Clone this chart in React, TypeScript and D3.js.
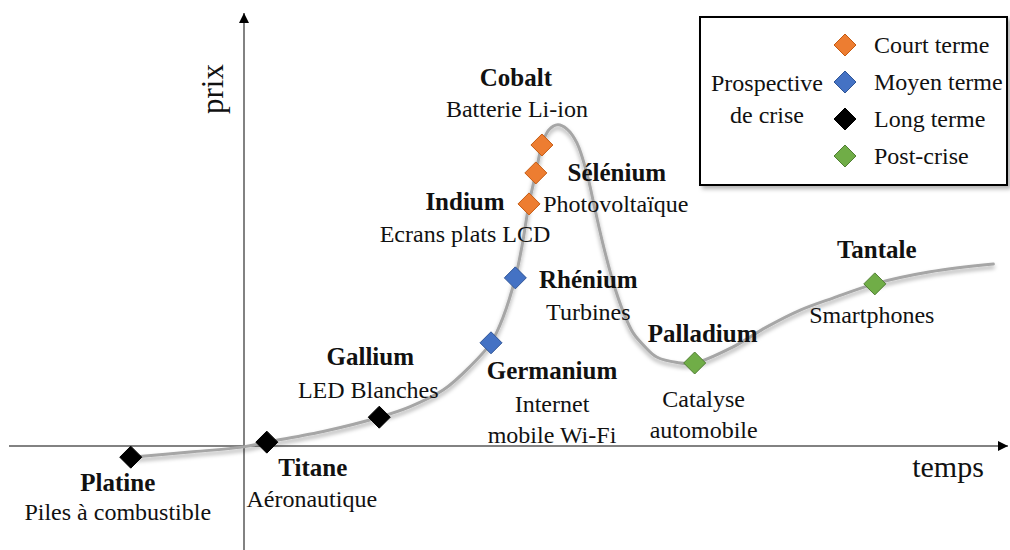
import React from "react";
import * as d3 from "d3";

// ---- data (time, price) ----
const curveTime = [-14.9, -7.1, -0.1, 3.0, 10.7, 17.8, 21.8, 26.2, 29.7, 32.5, 34.1, 35.7, 36.6, 37.5, 38.4, 39.2, 40.1, 41.3, 42.5, 43.8, 45.1, 46.2, 47.2, 48.6, 49.9, 51.2, 52.8, 54.3, 57.0, 59.3, 64.3, 68.8, 73.2, 77.5, 83.0, 90.3, 98.6];
const curvePrice = [-2.6, -1.4, -0.2, 0.9, 3.5, 6.7, 9.1, 13.0, 18.4, 24.0, 30.0, 39.1, 46.7, 56.3, 63.5, 70.0, 73.5, 74.7, 73.7, 70.5, 63.5, 54.9, 47.2, 37.9, 31.2, 26.3, 23.0, 20.7, 19.4, 19.3, 23.0, 27.7, 31.6, 34.4, 37.7, 40.5, 42.3];

const categories = ["Court terme", "Moyen terme", "Long terme", "Post-crise"];
const categoryColors = ["#ED7D31", "#4472C4", "#000000", "#70AD47"];
const categoryStrokes = ["#C55A11", "#2F5597", "#000000", "#507E32"];

const elements = ["Platine", "Titane", "Gallium", "Germanium", "Rhénium", "Indium", "Sélénium", "Cobalt", "Palladium", "Tantale"];
const applications = [
  ["Piles à combustible"],
  ["Aéronautique"],
  ["LED Blanches"],
  ["Internet", "mobile Wi-Fi"],
  ["Turbines"],
  ["Ecrans plats LCD"],
  ["Photovoltaïque"],
  ["Batterie Li-ion"],
  ["Catalyse", "automobile"],
  ["Smartphones"],
];
const elementTime = [-14.9, 3.0, 17.8, 32.5, 35.7, 37.5, 38.4, 39.2, 59.3, 83.0];
const elementPrice = [-2.6, 0.9, 6.7, 24.0, 39.1, 56.3, 63.5, 70.0, 19.3, 37.7];
const elementCategory = [2, 2, 2, 1, 1, 0, 0, 0, 3, 3];

const legendTitle = ["Prospective", "de crise"];
const axisLabels = { x: "temps", y: "prix" };

// ---- layout (label offsets relative to marker) ----
const labelLayout: Record<string, { dx: number; ndy: number; adx: number; ady: number }> = {
  Platine: { dx: -13, ndy: 34, adx: -13, ady: 63 },
  Titane: { dx: 46, ndy: 34, adx: 45, ady: 65 },
  Gallium: { dx: -9, ndy: -52, adx: -11, ady: -19 },
  Germanium: { dx: 61, ndy: 36, adx: 61, ady: 69 },
  "Rhénium": { dx: 73, ndy: 10, adx: 73, ady: 42 },
  Indium: { dx: -64, ndy: 6, adx: -64, ady: 38 },
  "Sélénium": { dx: 81, ndy: 8, adx: 80, ady: 39 },
  Cobalt: { dx: -26, ndy: -59, adx: -25, ady: -28 },
  Palladium: { dx: 8, ndy: -21, adx: 9, ady: 44 },
  Tantale: { dx: 2, ndy: -26, adx: -3, ady: 39 },
};

const W = 1010;
const H = 550;
const FONT = "'Liberation Serif', 'Times New Roman', serif";

export default function App() {
  const x = d3.scaleLinear().domain([0, 100]).range([244, 1004]);
  const y = d3.scaleLinear().domain([0, 100]).range([446, 16]);

  const pts: [number, number][] = curveTime.map((t, i) => [x(t), y(curvePrice[i])]);
  const line = d3.line<[number, number]>().curve(d3.curveCatmullRom.alpha(0.5));
  const curvePath = line(pts) || "";

  const r = 11;
  const diamond = `M0,${-r}L${r},0L0,${r}L${-r},0Z`;

  const x0 = x(0);
  const y0 = y(0);

  const legendX = 700, legendY = 17, legendW = 307, legendH = 168;
  const legendRowY = [45, 82, 119, 156];

  return (
    <div style={{ position: "absolute", left: 0, top: 0 }}>
      <svg width={W} height={H} style={{ display: "block", background: "#fff" }} fontFamily={FONT}>
        <defs>
          <filter id="lineShadow" x="-5%" y="-20%" width="110%" height="140%">
            <feDropShadow dx="0" dy="3" stdDeviation="2" floodColor="#000" floodOpacity="0.35" />
          </filter>
          <filter id="boxShadow" x="-5%" y="-5%" width="112%" height="115%">
            <feDropShadow dx="3" dy="3" stdDeviation="2" floodColor="#000" floodOpacity="0.3" />
          </filter>
          <marker id="arrow" viewBox="0 0 10 10" refX="10" refY="5" markerWidth="10" markerHeight="10" markerUnits="userSpaceOnUse" orient="auto">
            <path d="M0,0L10,5L0,10Z" fill="#000" />
          </marker>
        </defs>

        {/* axes */}
        <line x1={9} y1={y0} x2={1008} y2={y0} stroke="#595959" strokeWidth={1.5} markerEnd="url(#arrow)" />
        <line x1={x0} y1={H} x2={x0} y2={13} stroke="#595959" strokeWidth={1.5} markerEnd="url(#arrow)" />
        <text x={948} y={477} fontSize={30} textAnchor="middle" fill="#111">{axisLabels.x}</text>
        <text transform={`translate(223,89) rotate(-90)`} fontSize={31} textAnchor="middle" fill="#111">{axisLabels.y}</text>

        {/* curve */}
        <path d={curvePath} fill="none" stroke="#A6A6A6" strokeWidth={3} strokeLinecap="round" filter="url(#lineShadow)" />

        {/* markers */}
        {elements.map((e, i) => (
          <path key={e} d={diamond} transform={`translate(${x(elementTime[i])},${y(elementPrice[i])})`}
            fill={categoryColors[elementCategory[i]]} stroke={categoryStrokes[elementCategory[i]]} strokeWidth={1} />
        ))}

        {/* labels */}
        {elements.map((e, i) => {
          const px = x(elementTime[i]);
          const py = y(elementPrice[i]);
          const L = labelLayout[e];
          return (
            <g key={e + "-lbl"} fill="#111">
              <text x={px + L.dx} y={py + L.ndy} fontSize={25} fontWeight="bold" textAnchor="middle">{e}</text>
              {applications[i].map((a, j) => (
                <text key={j} x={px + L.adx} y={py + L.ady + j * 31} fontSize={24} textAnchor="middle">{a}</text>
              ))}
            </g>
          );
        })}

        {/* legend */}
        <rect x={legendX} y={legendY} width={legendW} height={legendH} fill="#fff" stroke="#000" strokeWidth={2} filter="url(#boxShadow)" />
        <text x={767} y={91} fontSize={24} textAnchor="middle" fill="#111">{legendTitle[0]}</text>
        <text x={767} y={123} fontSize={24} textAnchor="middle" fill="#111">{legendTitle[1]}</text>
        {categories.map((c, i) => (
          <g key={c} transform={`translate(845,${legendRowY[i]})`}>
            <path d={`M0,-11L11,0L0,11L-11,0Z`} fill={categoryColors[i]} stroke={categoryStrokes[i]} strokeWidth={1} />
            <text x={29} y={8} fontSize={24} fill="#111">{c}</text>
          </g>
        ))}
      </svg>
    </div>
  );
}
